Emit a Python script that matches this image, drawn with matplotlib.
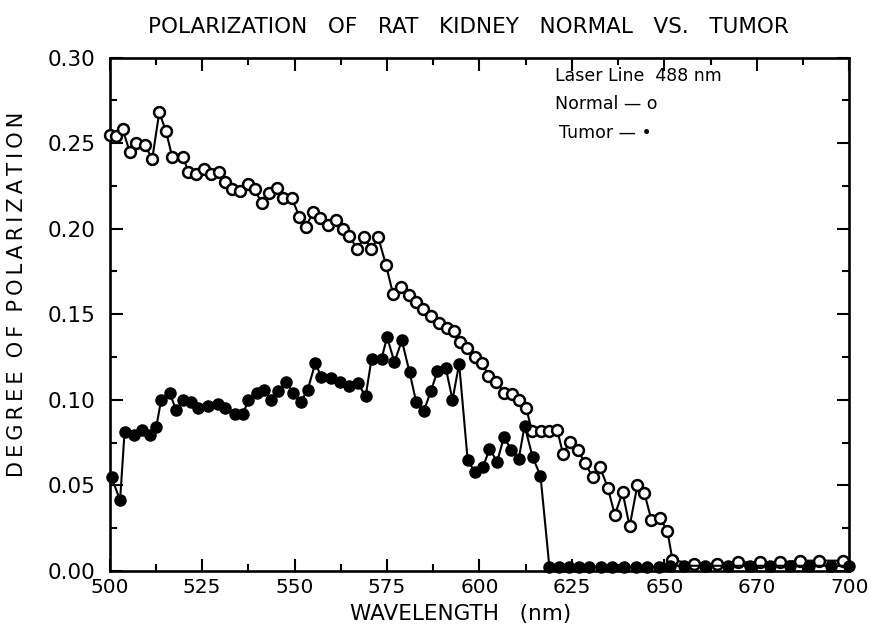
import matplotlib.pyplot as plt
from matplotlib.ticker import MultipleLocator

# ================== 数据 ==================
normal_wl = [500.0, 501.6, 503.5, 505.4, 507.2, 509.4, 511.5, 513.4, 515.2, 516.9,
             519.9, 521.2, 523.3, 525.5, 527.4, 529.5, 531.2, 533.1, 535.2, 537.4,
             539.2, 541.1, 543.0, 545.2, 546.8, 549.2, 551.3, 553.0, 555.1, 557.0,
             559.1, 561.3, 563.2, 564.8, 566.9, 568.8, 570.7, 572.6, 574.7, 576.6,
             578.8, 580.9, 582.8, 584.7, 586.8, 589.0, 591.1, 593.0, 594.6, 596.5,
             598.7, 600.8, 602.4, 604.6, 606.7, 608.9, 610.8, 612.6, 614.2, 616.7,
             618.8, 621.0, 622.6, 624.5, 626.6, 628.5, 630.6, 632.5, 634.7, 636.6,
             638.7, 640.6, 642.7, 644.6, 646.5, 648.7, 650.8, 652.2,
             657.9, 664.2, 670.0, 675.8, 681.2, 686.6, 691.9, 698.2]
normal_pol = [0.255, 0.254, 0.258, 0.245, 0.250, 0.249, 0.241, 0.268, 0.257, 0.242,
              0.242, 0.233, 0.232, 0.235, 0.232, 0.233, 0.227, 0.223, 0.222, 0.226,
              0.223, 0.215, 0.221, 0.224, 0.218, 0.218, 0.207, 0.201, 0.210, 0.206,
              0.202, 0.205, 0.200, 0.196, 0.188, 0.195, 0.188, 0.195, 0.179, 0.162,
              0.166, 0.161, 0.157, 0.153, 0.149, 0.145, 0.142, 0.140, 0.1335, 0.130,
              0.125, 0.1215, 0.114, 0.1105, 0.104, 0.1035, 0.100, 0.0955, 0.0815, 0.0815,
              0.0815, 0.0825, 0.0684, 0.0756, 0.0708, 0.063, 0.055, 0.061, 0.0487, 0.0327,
              0.046, 0.026, 0.050, 0.0454, 0.0298, 0.031, 0.0236, 0.0064,
              0.004, 0.004, 0.005, 0.005, 0.005, 0.006, 0.006, 0.006]

tumor_wl = [500.5, 502.8, 504.0, 506.5, 508.6, 510.8, 512.6, 513.9, 516.2, 518.0,
            519.9, 522.0, 523.9, 526.5, 529.2, 531.3, 533.8, 536.0, 537.5, 539.7,
            541.7, 543.5, 545.6, 547.8, 549.5, 551.6, 553.5, 555.6, 557.2, 559.9,
            562.4, 564.8, 567.1, 569.2, 570.8, 573.5, 575.0, 577.0, 579.0, 581.1,
            582.9, 585.0, 586.9, 588.6, 590.9, 592.7, 594.5, 596.8, 598.7, 601.0,
            602.7, 604.8, 606.6, 608.6, 610.6, 612.2, 614.4, 616.5,
            618.9, 621.6, 624.3, 626.9, 629.6, 632.8, 635.9, 639.1, 642.2, 645.3,
            648.5, 651.6, 655.2, 661.0, 667.3, 673.1, 678.5, 683.9, 689.2, 695.1, 700.0]
tumor_pol = [0.0546, 0.0413, 0.081, 0.0793, 0.0825, 0.0795, 0.0842, 0.100, 0.104, 0.0938,
             0.100, 0.0985, 0.0951, 0.0961, 0.0978, 0.095, 0.0917, 0.0916, 0.0998, 0.1038,
             0.1058, 0.0998, 0.105, 0.1105, 0.104, 0.0988, 0.1056, 0.1215, 0.1135, 0.1125,
             0.1105, 0.1078, 0.1098, 0.102, 0.1238, 0.1238, 0.1367, 0.122, 0.1347, 0.116,
             0.0985, 0.0937, 0.1054, 0.1166, 0.1185, 0.100, 0.121, 0.0649, 0.058, 0.061,
             0.0712, 0.0639, 0.0782, 0.0708, 0.0653, 0.0848, 0.0663, 0.0556,
             0.0025, 0.0025, 0.0025, 0.0025, 0.0025, 0.0025, 0.0025, 0.0025, 0.0025, 0.0025,
             0.0025, 0.003, 0.003, 0.003, 0.003, 0.003, 0.003, 0.003, 0.003, 0.003, 0.003]

x_ticks = [500, 525, 550, 575, 600, 625, 650, 675, 700]
x_tick_labels = ["500", "525", "550", "575", "600", "625", "650", "670", "700"]
y_ticks = [0.00, 0.05, 0.10, 0.15, 0.20, 0.25, 0.30]

# ================== 绘图 ==================
plt.rcParams['font.family'] = ['DejaVu Sans']

fig = plt.figure(figsize=(8.71, 6.26), dpi=100)
ax = fig.add_axes([0.126, 0.088, 0.849, 0.82])

ax.plot(normal_wl, normal_pol, color='black', linewidth=1.5, marker='o',
        markersize=7.8, markerfacecolor='white', markeredgecolor='black',
        markeredgewidth=1.8, clip_on=False, zorder=3)
ax.plot(tumor_wl, tumor_pol, color='black', linewidth=1.5, marker='o',
        markersize=8, markerfacecolor='black', markeredgecolor='black',
        clip_on=False, zorder=4)

ax.set_xlim(500, 700)
ax.set_ylim(0, 0.30)
ax.set_xticks(x_ticks)
ax.set_xticklabels(x_tick_labels)
ax.set_yticks(y_ticks)
ax.set_yticklabels([f"{v:.2f}" for v in y_ticks])
ax.xaxis.set_minor_locator(MultipleLocator(12.5))
ax.yaxis.set_minor_locator(MultipleLocator(0.025))

ax.tick_params(which='both', direction='in', top=True, right=True, width=1.5)
ax.tick_params(axis='x', pad=5, labelsize=14.5)
ax.tick_params(axis='y', pad=10, labelsize=15.5)
ax.tick_params(which='major', length=9)
ax.tick_params(which='minor', length=5)
for s in ax.spines.values():
    s.set_linewidth(1.9)

# 标题和轴标签（字母间加细空格，模拟原图的宽字距）
ax.set_title("POLARIZATION   OF   RAT   KIDNEY   NORMAL   VS.   TUMOR",
             fontsize=15.5, pad=18, x=0.485)
ax.set_xlabel("WAVELENGTH   (nm)", fontsize=15.5)
ax.xaxis.set_label_coords(0.475, -0.065)
ylab = "  ".join("\u2009".join(w) for w in ["DEGREE", "OF", "POLARIZATION"])
ax.set_ylabel(ylab, fontsize=15)
ax.yaxis.set_label_coords(-0.112, 0.538)

# 图例文字
ax.text(0.602, 0.965, "Laser Line  488 nm", transform=ax.transAxes,
        fontsize=12.5, va='center', ha='left')
ax.text(0.602, 0.91, "Normal \u2014 o", transform=ax.transAxes,
        fontsize=12.5, va='center', ha='left')
ax.text(0.608, 0.853, "Tumor \u2014 \u2022", transform=ax.transAxes,
        fontsize=12.5, va='center', ha='left')

fig.savefig("out.png", dpi=100)
